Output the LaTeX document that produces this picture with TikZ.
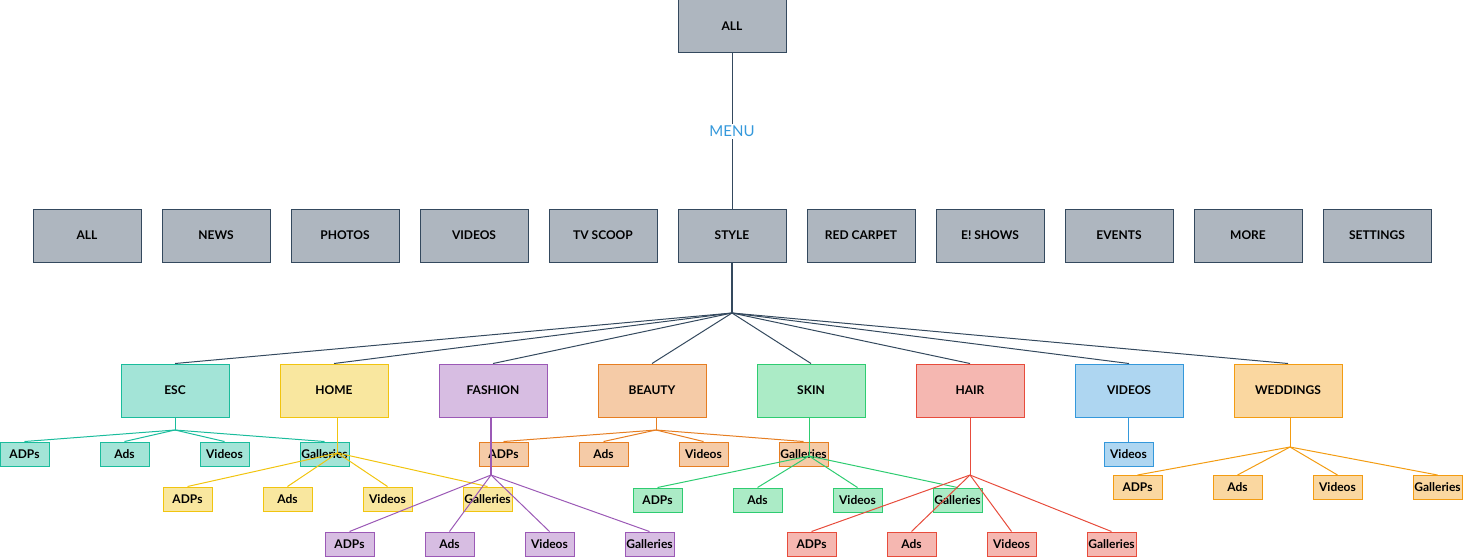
\documentclass[tikz,border=0pt]{standalone}
\usepackage{fontspec}
\setmainfont{Lato}
\definecolor{gr}{HTML}{34495E}\definecolor{grf}{HTML}{AEB6BF}
\definecolor{esc}{HTML}{1ABC9C}\definecolor{escf}{HTML}{A3E4D7}
\definecolor{hom}{HTML}{F1C40F}\definecolor{homf}{HTML}{F9E79F}
\definecolor{fas}{HTML}{9B59B6}\definecolor{fasf}{HTML}{D7BDE2}
\definecolor{bea}{HTML}{E67E22}\definecolor{beaf}{HTML}{F5CBA7}
\definecolor{ski}{HTML}{2ECC71}\definecolor{skif}{HTML}{ABEBC6}
\definecolor{hai}{HTML}{E74C3C}\definecolor{haif}{HTML}{F5B7B1}
\definecolor{vid}{HTML}{3498DB}\definecolor{vidf}{HTML}{AED6F1}
\definecolor{wed}{HTML}{F39C12}\definecolor{wedf}{HTML}{FAD7A0}
\tikzset{
  lbl/.style={font=\bfseries\fontsize{12}{14}\selectfont, text=black},
  bbox/.style={rectangle, lbl, minimum width=108pt, minimum height=53pt, inner sep=0pt, line width=1pt},
  sbox/.style={rectangle, lbl, minimum width=49pt, minimum height=24pt, inner sep=0pt, line width=1pt},
  grp/.style={draw=#1, fill=#1f},
  conn/.style={draw=#1, line width=1pt},
}
\begin{document}
\begin{tikzpicture}[x=1pt,y=-1pt]
\useasboundingbox (0,0) rectangle (1463,558);
% top
\node[bbox,grp=gr] (top) at (732,26) {ALL};
\node[font=\fontsize{15}{17}\selectfont, text=vid, inner sep=2pt] (menu) at (732,131.5) {MENU};
\foreach \t [count=\i from 0] in {ALL,NEWS,PHOTOS,VIDEOS,TV SCOOP,STYLE,RED CARPET,E! SHOWS,EVENTS,MORE,SETTINGS}
  \node[bbox,grp=gr] (m\i) at (87+129*\i,235.5) {\t};
\draw[conn=gr] (top) -- (menu);
\draw[conn=gr] (menu) -- (m5);
% categories
\coordinate (jstyle) at (732,313);
\foreach \t/\n/\c [count=\i from 0] in {ESC/esc/esc,HOME/home/hom,FASHION/fashion/fas,BEAUTY/beauty/bea,SKIN/skin/ski,HAIR/hair/hai,VIDEOS/videos/vid,WEDDINGS/weddings/wed}
  \node[bbox,grp=\c] (\n) at (175+159*\i,390.5) {\t};
\draw[conn=gr, line width=1.4pt] (m5) -- (jstyle);
\foreach \n in {esc,home,fashion,beauty,skin,hair,videos,weddings}
  \draw[conn=gr] (jstyle) -- (\n.north);
% ESC
\coordinate (jesc) at (175,430);
\draw[conn=esc] (jesc |- esc.south) -- (jesc);
\foreach \t [count=\i from 0] in {ADPs,Ads,Videos,Galleries}
  \node[sbox,grp=esc] (esc\i) at (24.5+100*\i,454) {\t};
\foreach \i in {0,...,3} \draw[conn=esc] (jesc) -- (esc\i.north);
% BEAUTY
\coordinate (jbea) at (656,430);
\draw[conn=bea] (jbea |- beauty.south) -- (jbea);
\foreach \t [count=\i from 0] in {ADPs,Ads,Videos,Galleries}
  \node[sbox,grp=bea] (bea\i) at (503.5+100*\i,454) {\t};
\foreach \i in {0,...,3} \draw[conn=bea] (jbea) -- (bea\i.north);
% VIDEOS
\node[sbox,grp=vid] (vid0) at (1128.5,454) {Videos};
\draw[conn=vid] (vid0.north |- videos.south) -- (vid0.north);
% HOME
\coordinate (jhom) at (337.5,453);
\draw[conn=hom, line width=1.4pt] (jhom |- home.south) -- (jhom);
\foreach \t [count=\i from 0] in {ADPs,Ads,Videos,Galleries}
  \node[sbox,grp=hom] (hom\i) at (187.5+100*\i,499) {\t};
\foreach \i in {0,...,3} \draw[conn=hom] (jhom) -- (hom\i.north);
% SKIN
\coordinate (jski) at (809,456);
\draw[conn=ski] (jski |- skin.south) -- (jski);
\foreach \t [count=\i from 0] in {ADPs,Ads,Videos,Galleries}
  \node[sbox,grp=ski] (ski\i) at (657.5+100*\i,500) {\t};
\foreach \i in {0,...,3} \draw[conn=ski] (jski) -- (ski\i.north);
% WEDDINGS
\coordinate (jwed) at (1290,447);
\draw[conn=wed] (jwed |- weddings.south) -- (jwed);
\foreach \t [count=\i from 0] in {ADPs,Ads,Videos,Galleries}
  \node[sbox,grp=wed] (wed\i) at (1137.5+100*\i,487.5) {\t};
\foreach \i in {0,...,3} \draw[conn=wed] (jwed) -- (wed\i.north);
% FASHION
\coordinate (jfas) at (491,475);
\draw[conn=fas, line width=1.4pt] (jfas |- fashion.south) -- (jfas);
\foreach \t [count=\i from 0] in {ADPs,Ads,Videos,Galleries}
  \node[sbox,grp=fas] (fas\i) at (349.5+100*\i,544) {\t};
\foreach \i in {0,...,3} \draw[conn=fas] (jfas) -- (fas\i.north);
% HAIR
\coordinate (jhai) at (970,475);
\draw[conn=hai] (jhai |- hair.south) -- (jhai);
\foreach \t [count=\i from 0] in {ADPs,Ads,Videos,Galleries}
  \node[sbox,grp=hai] (hai\i) at (811.5+100*\i,544) {\t};
\foreach \i in {0,...,3} \draw[conn=hai] (jhai) -- (hai\i.north);
\end{tikzpicture}
\end{document}
